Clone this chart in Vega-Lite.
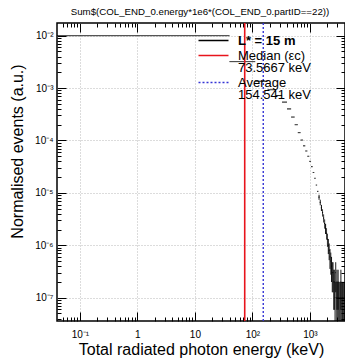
{
  "$schema": "https://vega.github.io/schema/vega-lite/v6.json",
  "width": 288,
  "height": 298,
  "autosize": "none",
  "padding": {"left": 57, "top": 23, "right": 0, "bottom": 38},
  "background": "white",
  "title": {"text": "Sum$(COL_END_0.energy*1e6*(COL_END_0.partID==22))", "font": "Liberation Sans", "fontSize": 9.7, "fontWeight": "normal", "color": "black", "anchor": "middle", "offset": 6, "dx": -1},
  "datasets": {
    "h": [
      {"lo": 0.01, "hi": 40, "n": 0.01},
      {"lo": 40, "hi": 112, "n": 0.0032},
      {"lo": 112, "hi": 184, "n": 0.00135},
      {"lo": 184, "hi": 256, "n": 0.00093},
      {"lo": 256, "hi": 328, "n": 0.00072},
      {"lo": 328, "hi": 400, "n": 0.00054},
      {"lo": 400, "hi": 472, "n": 0.0004},
      {"lo": 472, "hi": 544, "n": 0.00028},
      {"lo": 544, "hi": 616, "n": 0.0002},
      {"lo": 616, "hi": 688, "n": 0.000141},
      {"lo": 688, "hi": 760, "n": 0.000102},
      {"lo": 760, "hi": 832, "n": 0.000079},
      {"lo": 832, "hi": 904, "n": 0.000063},
      {"lo": 904, "hi": 976, "n": 0.00005},
      {"lo": 976, "hi": 1048, "n": 0.00004},
      {"lo": 1048, "hi": 1120, "n": 0.0000316},
      {"lo": 1120, "hi": 1192, "n": 0.0000245},
      {"lo": 1192, "hi": 1264, "n": 0.000019},
      {"lo": 1264, "hi": 1336, "n": 0.0000141},
      {"lo": 1336, "hi": 1408, "n": 0.0000107},
      {"lo": 1408, "hi": 1480, "n": 8.3e-6, "c": 1444, "elo": 7.4e-6, "ehi": 9.2e-6},
      {"lo": 1480, "hi": 1552, "n": 6.6e-6, "c": 1516, "elo": 5.8e-6, "ehi": 7.4e-6},
      {"lo": 1552, "hi": 1624, "n": 5.2e-6, "c": 1588, "elo": 4.5e-6, "ehi": 5.9e-6},
      {"lo": 1624, "hi": 1696, "n": 4.2e-6, "c": 1660, "elo": 3.55e-6, "ehi": 4.85e-6},
      {"lo": 1696, "hi": 1768, "n": 3.3e-6, "c": 1732, "elo": 2.73e-6, "ehi": 3.87e-6},
      {"lo": 1768, "hi": 1840, "n": 2.6e-6, "c": 1804, "elo": 2.09e-6, "ehi": 3.11e-6},
      {"lo": 1840, "hi": 1912, "n": 2.1e-6, "c": 1876, "elo": 1.64e-6, "ehi": 2.56e-6},
      {"lo": 1912, "hi": 1984, "n": 1.7e-6, "c": 1948, "elo": 1.29e-6, "ehi": 2.11e-6},
      {"lo": 1984, "hi": 2056, "n": 1.3e-6, "c": 2020, "elo": 9.4e-7, "ehi": 1.66e-6},
      {"lo": 2056, "hi": 2128, "n": 1e-6, "c": 2092, "elo": 6.8e-7, "ehi": 1.32e-6},
      {"lo": 2128, "hi": 2200, "n": 8e-7, "c": 2164, "elo": 5.2e-7, "ehi": 1.08e-6},
      {"lo": 2200, "hi": 2272, "n": 6e-7, "c": 2236, "elo": 3.55e-7, "ehi": 8.45e-7},
      {"lo": 2272, "hi": 2344, "n": 5e-7, "c": 2308, "elo": 2.76e-7, "ehi": 7.24e-7},
      {"lo": 2344, "hi": 2416, "n": 4e-7, "c": 2380, "elo": 2e-7, "ehi": 6e-7},
      {"lo": 2416, "hi": 2488, "n": 3e-7, "c": 2452, "elo": 1.27e-7, "ehi": 4.73e-7},
      {"lo": 2488, "hi": 2560, "n": 3e-7, "c": 2524, "elo": 1.27e-7, "ehi": 4.73e-7},
      {"lo": 2560, "hi": 2632, "n": 2e-7, "c": 2596, "elo": 5.9e-8, "ehi": 3.41e-7},
      {"lo": 2632, "hi": 2704, "n": 2e-7, "c": 2668, "elo": 5.9e-8, "ehi": 3.41e-7},
      {"lo": 2704, "hi": 2776, "n": 1e-7, "c": 2740, "elo": 1e-9, "ehi": 2e-7},
      {"lo": 2776, "hi": 2848, "n": 3e-7, "c": 2812, "elo": 1.27e-7, "ehi": 4.73e-7},
      {"lo": 2848, "hi": 2920, "n": 1e-7, "c": 2884, "elo": 1e-9, "ehi": 2e-7},
      {"lo": 2920, "hi": 2992, "n": 2e-7, "c": 2956, "elo": 5.9e-8, "ehi": 3.41e-7},
      {"lo": 2992, "hi": 3064, "n": 1e-7, "c": 3028, "elo": 1e-9, "ehi": 2e-7},
      {"lo": 3064, "hi": 3136, "n": 2e-7, "c": 3100, "elo": 5.9e-8, "ehi": 3.41e-7},
      {"lo": 3136, "hi": 3208, "n": 1e-7, "c": 3172, "elo": 1e-9, "ehi": 2e-7},
      {"lo": 3208, "hi": 3280, "n": 1e-7, "c": 3244, "elo": 1e-9, "ehi": 2e-7},
      {"lo": 3352, "hi": 3424, "n": 1e-7, "c": 3388, "elo": 1e-9, "ehi": 2e-7},
      {"lo": 3424, "hi": 3496, "n": 2e-7, "c": 3460, "elo": 5.9e-8, "ehi": 3.41e-7},
      {"lo": 3496, "hi": 3568, "n": 1e-7, "c": 3532, "elo": 1e-9, "ehi": 2e-7},
      {"lo": 3640, "hi": 3712, "n": 1e-7, "c": 3676, "elo": 1e-9, "ehi": 2e-7},
      {"lo": 3712, "hi": 3784, "n": 1e-7, "c": 3748, "elo": 1e-9, "ehi": 2e-7},
      {"lo": 3856, "hi": 3928, "n": 1e-7, "c": 3892, "elo": 1e-9, "ehi": 2e-7},
      {"lo": 3928, "hi": 4000, "n": 1e-7, "c": 3964, "elo": 1e-9, "ehi": 2e-7}
    ],
    "median": [{"e": 73.5667}],
    "average": [{"e": 154.541}]
  },
  "config": {
    "view": {"stroke": "black", "strokeWidth": 1.5},
    "axis": {
      "domain": false,
      "tickColor": "black",
      "tickWidth": 1,
      "labelFont": "Liberation Sans",
      "labelFontSize": 10,
      "labelColor": "black",
      "titleFont": "Liberation Sans",
      "titleFontSize": 16,
      "titleFontWeight": "normal",
      "titleColor": "black",
      "gridColor": "#b8b8b8",
      "gridDash": [1, 2],
      "labelOverlap": false,
      "labelFlush": false,
      "labelBound": false
    },
    "style": {"guide-label": {"lineHeight": 12.5}}
  },
  "layer": [
    {
      "data": {"name": "h"},
      "mark": {"type": "rule", "clip": true, "strokeWidth": 1},
      "encoding": {
        "x": {
          "field": "lo", "type": "quantitative",
          "scale": {"type": "log", "domain": [0.04, 4080], "nice": false},
          "axis": {
            "orient": "bottom",
            "values": [0.05,0.06,0.07,0.08,0.09,0.1,0.2,0.3,0.4,0.5,0.6,0.7,0.8,0.9,1,2,3,4,5,6,7,8,9,10,20,30,40,50,60,70,80,90,100,200,300,400,500,600,700,800,900,1000,2000,3000,4000],
            "tickSize": {"condition": {"test": "abs(log(datum.value)/LN10 - round(log(datum.value)/LN10)) < 0.001", "value": -9}, "value": -4},
            "grid": true,
            "gridOpacity": {"condition": {"test": "abs(log(datum.value)/LN10 - round(log(datum.value)/LN10)) < 0.001", "value": 1}, "value": 0},
            "labelExpr": "datum.value == 0.1 ? '10⁻¹' : datum.value == 1 ? '1' : datum.value == 10 ? '10' : datum.value == 100 ? '10²' : datum.value == 1000 ? '10³' : ''",
            "labelPadding": 17,
            "title": "Total radiated photon energy (keV)",
            "titleX": 144,
            "titleY": 33,
            "titleAlign": "center",
            "titleBaseline": "alphabetic"
          }
        },
        "x2": {"field": "hi"},
        "y": {
          "field": "n", "type": "quantitative",
          "scale": {"type": "log", "domain": [3.59e-8, 0.01746], "nice": false},
          "axis": {
            "orient": "left",
            "values": [4e-8,5e-8,6e-8,7e-8,8e-8,9e-8,1e-7,2e-7,3e-7,4e-7,5e-7,6e-7,7e-7,8e-7,9e-7,1e-6,2e-6,3e-6,4e-6,5e-6,6e-6,7e-6,8e-6,9e-6,1e-5,2e-5,3e-5,4e-5,5e-5,6e-5,7e-5,8e-5,9e-5,1e-4,2e-4,3e-4,4e-4,5e-4,6e-4,7e-4,8e-4,9e-4,1e-3,2e-3,3e-3,4e-3,5e-3,6e-3,7e-3,8e-3,9e-3,1e-2],
            "tickSize": {"condition": {"test": "abs(log(datum.value)/LN10 - round(log(datum.value)/LN10)) < 0.001", "value": -9}, "value": -4},
            "grid": true,
            "gridOpacity": {"condition": {"test": "abs(log(datum.value)/LN10 - round(log(datum.value)/LN10)) < 0.001", "value": 1}, "value": 0},
            "labelExpr": "datum.value == 0.01 ? '10⁻²' : datum.value == 0.001 ? '10⁻³' : datum.value == 0.0001 ? '10⁻⁴' : datum.value == 0.00001 ? '10⁻⁵' : datum.value == 0.000001 ? '10⁻⁶' : datum.value == 1e-7 ? '10⁻⁷' : ''",
            "labelPadding": 13,
            "title": "Normalised events (a.u.)",
            "titleX": -32,
            "titleY": 128,
            "titleAngle": -90,
            "titleAlign": "center",
            "titleBaseline": "bottom"
          }
        },
        "stroke": {
          "datum": "L",
          "scale": {"domain": ["L", "M", "A"], "range": ["black", "#e8141c", "#3535d5"]},
          "legend": {
            "title": null,
            "orient": "none",
            "legendX": 150,
            "legendY": 11,
            "symbolType": "M-3,0H3",
            "symbolSize": 100,
            "symbolStrokeWidth": 1.5,
            "labelFont": "Liberation Sans",
            "labelFontSize": 13,
            "labelColor": "black",
            "labelOffset": 18,
            "labelLimit": 0,
            "rowPadding": 1,
            "padding": 0,
            "labelExpr": "datum.value == 'M' ? ['Median (εc)', '73.5667 keV'] : datum.value == 'A' ? ['Average', '154.541 keV'] : 'L* = 15 m'",
            "labelFontWeight": {"expr": "datum.value == 'L' ? 'bold' : 'normal'"}
          }
        },
        "strokeDash": {
          "datum": "L",
          "scale": {"domain": ["L", "M", "A"], "range": [[1, 0], [1, 0], [2, 2]]},
          "legend": null
        }
      }
    },
    {
      "data": {"name": "h"},
      "mark": {"type": "rule", "clip": true, "strokeWidth": 1},
      "encoding": {
        "x": {"field": "c", "type": "quantitative", "axis": null},
        "y": {
          "field": "elo", "type": "quantitative",
          "axis": {
            "orient": "right",
            "values": [4e-8,5e-8,6e-8,7e-8,8e-8,9e-8,1e-7,2e-7,3e-7,4e-7,5e-7,6e-7,7e-7,8e-7,9e-7,1e-6,2e-6,3e-6,4e-6,5e-6,6e-6,7e-6,8e-6,9e-6,1e-5,2e-5,3e-5,4e-5,5e-5,6e-5,7e-5,8e-5,9e-5,1e-4,2e-4,3e-4,4e-4,5e-4,6e-4,7e-4,8e-4,9e-4,1e-3,2e-3,3e-3,4e-3,5e-3,6e-3,7e-3,8e-3,9e-3,1e-2],
            "tickSize": {"condition": {"test": "abs(log(datum.value)/LN10 - round(log(datum.value)/LN10)) < 0.001", "value": -9}, "value": -4},
            "grid": false,
            "labels": false,
            "title": null
          }
        },
        "y2": {"field": "ehi"},
        "stroke": {"datum": "L"},
        "strokeDash": {"datum": "L"}
      }
    },
    {
      "data": {"name": "median"},
      "mark": {"type": "rule", "strokeWidth": 1.6},
      "encoding": {
        "x": {
          "field": "e", "type": "quantitative",
          "axis": {
            "orient": "top",
            "values": [0.05,0.06,0.07,0.08,0.09,0.1,0.2,0.3,0.4,0.5,0.6,0.7,0.8,0.9,1,2,3,4,5,6,7,8,9,10,20,30,40,50,60,70,80,90,100,200,300,400,500,600,700,800,900,1000,2000,3000,4000],
            "tickSize": {"condition": {"test": "abs(log(datum.value)/LN10 - round(log(datum.value)/LN10)) < 0.001", "value": -9}, "value": -4},
            "grid": false,
            "labels": false,
            "title": null
          }
        },
        "stroke": {"datum": "M"},
        "strokeDash": {"datum": "M"}
      }
    },
    {
      "data": {"name": "average"},
      "mark": {"type": "rule", "strokeWidth": 1.4},
      "encoding": {
        "x": {"field": "e", "type": "quantitative", "axis": null},
        "stroke": {"datum": "A"},
        "strokeDash": {"datum": "A"}
      }
    }
  ],
  "resolve": {
    "scale": {"x": "shared", "y": "shared"},
    "axis": {"x": "independent", "y": "independent"}
  }
}
